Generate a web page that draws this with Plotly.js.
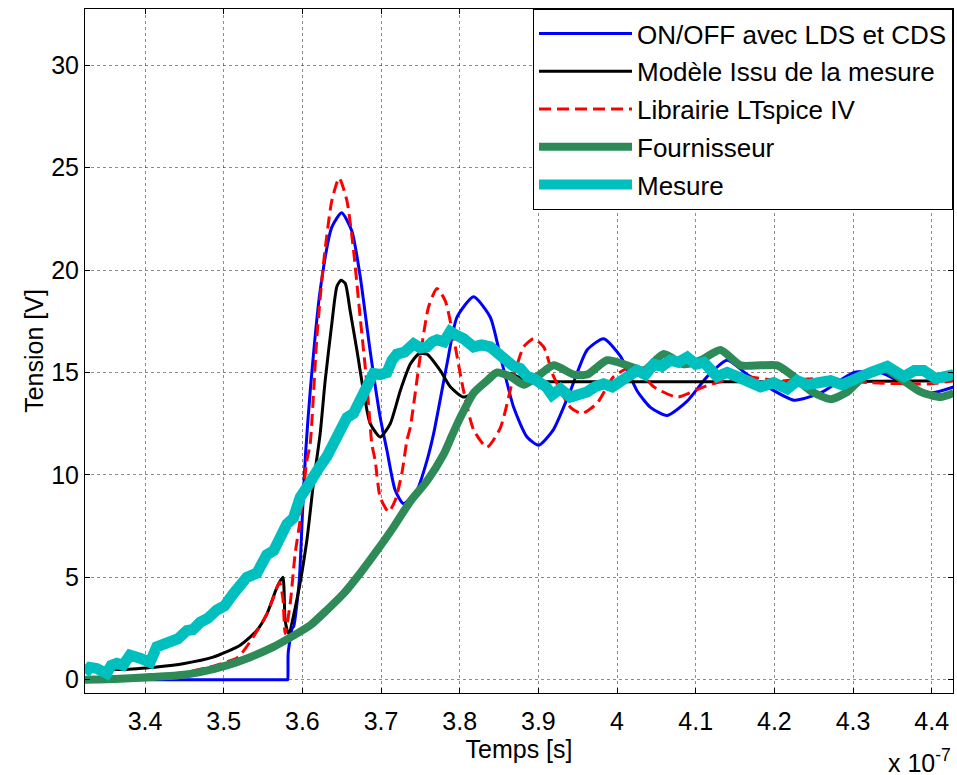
<!DOCTYPE html>
<html>
<head>
<meta charset="utf-8">
<script src="https://cdn.plot.ly/plotly-3.0.1.min.js"></script>
<style>html,body{margin:0;padding:0;background:#fff;}#chart{width:957px;height:775px;}</style>
</head>
<body>
<div id="chart"></div>
<script>
// Time in units of 1e-7 s, voltage in V
const seriesNames = ["ON/OFF avec LDS et CDS", "Modèle Issu de la mesure", "Librairie LTspice IV", "Fournisseur", "Mesure"];

const tOnOff = [3.3237,3.40,3.50,3.578,3.5812,3.5815,3.582,3.587,3.589,3.596,3.600,3.604,3.610,3.6226,3.6375,3.650,3.663,3.6735,3.686,3.699,3.7075,3.718,3.7286,3.7457,3.7584,3.7668,3.7838,3.7966,3.8177,3.8389,3.8517,3.8686,3.8856,3.9004,3.919,3.9407,3.962,3.983,4.0043,4.0256,4.0425,4.0637,4.0892,4.1146,4.140,4.1655,4.191,4.2248,4.2588,4.3012,4.335,4.3648,4.3987,4.428];
const vOnOff = [0,0,0,0,0,0,1.3,2.5,2.6,4.8,8.0,11.0,14.1,19.0,22.1,22.8,21.9,19.7,16.1,12.8,11.2,9.25,8.6,9.25,10.7,12.0,15.4,17.7,18.7,17.7,15.8,13.3,11.85,11.45,12.2,14.1,16.1,16.65,15.8,14.1,13.3,12.9,13.6,14.8,15.6,14.9,14.3,13.65,14.0,15.0,15.0,14.45,14.0,14.3];

const tModele = [3.3237,3.3767,3.40,3.4149,3.4483,3.4865,3.5209,3.5421,3.5548,3.5676,3.5752,3.5781,3.5823,3.593,3.6057,3.6141,3.6226,3.629,3.6375,3.6439,3.649,3.6545,3.6608,3.6693,3.6777,3.6863,3.699,3.7117,3.7244,3.7371,3.7477,3.7584,3.7753,3.788,3.805,3.822,3.8431,3.8644,3.8856,3.979,4.1063,4.2333,4.428];
const vModele = [0.5,0.5,0.57,0.62,0.78,1.1,1.68,2.4,3.2,4.5,5.0,2.9,2.25,3.9,6.8,9.6,12.0,14.6,17.4,19.2,19.5,19.35,18.0,16.1,14.1,12.5,11.85,12.5,14.1,15.4,15.9,15.9,15.1,14.3,13.8,14.1,14.95,14.95,14.6,14.55,14.55,14.55,14.6];

const tLTspice = [3.3237,3.40,3.45,3.49,3.5183,3.5378,3.5548,3.5632,3.5709,3.5752,3.5781,3.5845,3.5908,3.5972,3.6057,3.6099,3.6184,3.6268,3.6375,3.6468,3.6566,3.665,3.6735,3.682,3.6884,3.6926,3.699,3.7096,3.7181,3.7266,3.733,3.7371,3.7499,3.7604,3.7711,3.7817,3.7922,3.805,3.8177,3.8347,3.8517,3.8686,3.8813,3.894,3.9067,3.9195,3.9407,3.9556,3.9747,3.9958,4.0216,4.0467,4.0765,4.1103,4.157,4.2079,4.2499,4.3224,4.3987,4.428];
const vLTspice = [0,0.13,0.35,0.7,1.1,2.1,3.2,4.0,4.77,4.0,2.25,3.7,6.15,7.8,10.7,11.5,16.7,20.3,23.4,24.5,23.4,21.0,17.7,14.45,11.5,10.7,8.9,8.2,8.76,10.1,11.7,12.3,15.8,18.2,19.1,18.5,16.7,14.1,12.2,11.35,12.3,14.8,16.25,16.65,16.25,14.8,13.3,13.0,13.5,14.8,15.3,14.3,13.8,14.3,14.8,14.6,14.7,14.5,14.45,14.6];

const tFournisseur = [3.3237,3.368,3.4064,3.4403,3.470,3.504,3.5336,3.5632,3.5887,3.6099,3.6312,3.6523,3.6735,3.6948,3.7159,3.7371,3.7584,3.7795,3.790,3.8008,3.8177,3.8347,3.8475,3.8644,3.8813,3.8983,3.9195,3.945,3.962,3.9874,4.0128,4.034,4.0594,4.0849,4.1061,4.1315,4.157,4.1824,4.2037,4.2248,4.246,4.2715,4.2927,4.3135,4.3393,4.3606,4.386,4.4115,4.428];
const vFournisseur = [0,0.05,0.13,0.2,0.37,0.7,1.1,1.6,2.15,2.65,3.4,4.2,5.2,6.3,7.45,8.7,9.7,11.0,11.9,12.8,14.0,14.6,15.0,14.8,14.4,14.8,15.35,14.9,14.9,15.6,15.35,15.1,15.9,15.4,15.6,16.1,15.35,15.35,15.35,14.8,14.1,13.7,14.05,14.8,15.2,14.7,14.05,13.8,14.0];

const tMesure = [3.3237,3.330,3.3386,3.345,3.3513,3.357,3.364,3.372,3.3809,3.3936,3.4064,3.4149,3.423,3.4318,3.442,3.4531,3.461,3.470,3.480,3.4912,3.501,3.5123,3.520,3.5294,3.5421,3.549,3.5548,3.5636,3.5718,3.5803,3.5887,3.5972,3.606,3.6141,3.622,3.6312,3.6439,3.650,3.6566,3.665,3.6735,3.682,3.6904,3.699,3.7075,3.714,3.7202,3.730,3.7414,3.750,3.7584,3.765,3.7711,3.780,3.788,3.797,3.805,3.8177,3.828,3.8389,3.8517,3.860,3.8686,3.877,3.8856,3.894,3.9025,3.910,3.9174,3.928,3.9407,3.950,3.962,3.972,3.983,3.994,4.0043,4.015,4.0256,4.036,4.0467,4.057,4.068,4.078,4.0892,4.100,4.1103,4.1273,4.140,4.1527,4.167,4.1824,4.199,4.2164,4.229,4.2418,4.256,4.2715,4.286,4.3012,4.322,4.3436,4.3648,4.378,4.3898,4.405,4.4199,4.428];
const vMesure = [0.3,0.6,0.55,0.35,0.3,0.7,0.8,0.7,1.2,1.05,0.85,1.6,1.7,1.9,2.0,2.4,2.45,2.8,3.0,3.4,3.6,4.2,4.5,5.0,5.2,5.8,6.1,6.3,7.0,7.6,7.9,8.9,9.4,10.05,10.4,10.9,11.8,12.3,12.8,13.0,13.65,14.4,14.95,14.9,15.0,15.6,15.9,16.0,16.4,16.2,16.25,16.5,16.6,16.5,17.0,16.8,16.65,16.25,16.35,16.25,15.8,15.6,15.3,15.2,14.8,14.7,14.45,14.3,13.9,14.2,13.8,13.9,14.05,14.3,14.45,14.3,14.6,14.9,15.1,14.9,15.4,15.3,15.6,15.5,15.75,15.4,15.5,14.8,15.0,14.8,14.5,14.3,14.5,14.2,14.6,14.4,14.5,14.6,14.4,14.7,15.0,15.3,14.8,15.1,15.1,14.7,14.8,14.9];

const xTickVals = [3.4,3.5,3.6,3.7,3.8,3.9,4.0,4.1,4.2,4.3,4.4];
const xTickText = ["3.4","3.5","3.6","3.7","3.8","3.9","4","4.1","4.2","4.3","4.4"];
const yTickVals = [0,5,10,15,20,25,30];

const FONT = "Liberation Sans, Arial, Helvetica, sans-serif";
const FS = 25;

const traces = [
  {x: tOnOff, y: vOnOff, name: seriesNames[0], line: {color: "#0000FF", width: 3, shape: "spline", smoothing: 0.6}},
  {x: tModele, y: vModele, name: seriesNames[1], line: {color: "#000000", width: 3, shape: "spline", smoothing: 0.6}},
  {x: tLTspice, y: vLTspice, name: seriesNames[2], line: {color: "#FF0000", width: 3, dash: "12px,6px", shape: "spline", smoothing: 0.6}},
  {x: tFournisseur, y: vFournisseur, name: seriesNames[3], line: {color: "#2E8B57", width: 8, shape: "spline", smoothing: 0.6}},
  {x: tMesure, y: vMesure, name: seriesNames[4], line: {color: "#00BFBF", width: 11}}
].map((t, i) => Object.assign({type: "scatter", mode: "lines", legendgroup: "g" + i}, t));

const axisCommon = {
  showline: true, linecolor: "#000", linewidth: 1, mirror: "allticks",
  ticks: "inside", ticklen: 5, tickcolor: "#000", tickwidth: 1,
  showgrid: true, gridcolor: "rgba(0,0,0,0.45)", griddash: "dot", gridwidth: 1,
  zeroline: false, tickfont: {family: FONT, size: FS, color: "#000"}
};

const layout = {
  width: 957, height: 775,
  margin: {l: 85, r: 4, t: 9, b: 82},
  paper_bgcolor: "#fff", plot_bgcolor: "#fff",
  showlegend: true,
  font: {family: FONT, size: FS, color: "#000"},
  xaxis: Object.assign({}, axisCommon, {
    range: [3.3237, 4.4271], tickmode: "array", tickvals: xTickVals, ticktext: xTickText,
    ticklabelstandoff: 6,
    title: {text: "Temps [s]", font: {family: FONT, size: FS, color: "#000"}, standoff: 6}
  }),
  yaxis: Object.assign({}, axisCommon, {
    range: [-0.65, 32.75], tickmode: "array", tickvals: yTickVals,
    title: {text: "Tension [V]", font: {family: FONT, size: FS, color: "#000"}, standoff: 0}
  }),
  legend: {
    x: 1, xanchor: "right", y: 1, yanchor: "top",
    bgcolor: "#fff", bordercolor: "#000", borderwidth: 1,
    font: {family: FONT, size: 26, color: "#000"},
    traceorder: "grouped", tracegroupgap: 1, itemwidth: 93
  },
  annotations: [{
    xref: "paper", yref: "paper", x: 1, xanchor: "right", y: 0, yanchor: "top", yshift: -50,
    text: "x 10<sup>-7</sup>", showarrow: false, font: {family: FONT, size: FS, color: "#000"}
  }]
};

Plotly.newPlot("chart", traces, layout, {staticPlot: true});
</script>
</body>
</html>
